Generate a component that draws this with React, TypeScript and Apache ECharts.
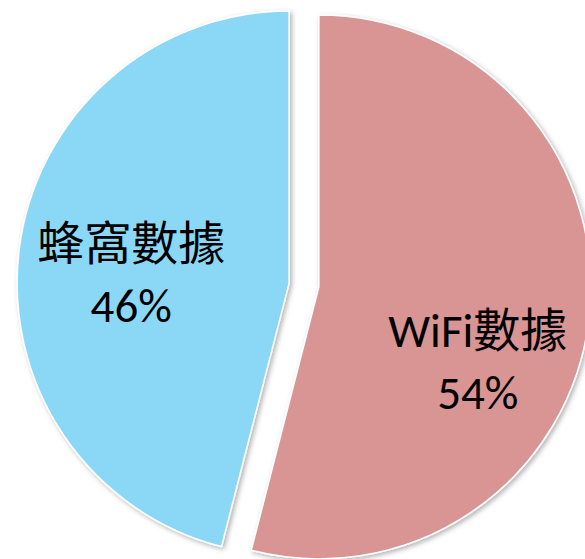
import React, { useEffect, useRef } from "react";
import * as echarts from "echarts";

const categories = ["WiFi數據", "蜂窩數據"];
const values = [54, 46];
const colors = ["#D99594", "#8AD8F6"];
// label nudges (layout only): horizontal padding [top, right, bottom, left], vertical spacer height
const labelPadding = [
  [0, 0, 0, 42],
  [0, 40, 0, 0],
];
const labelSpacer = [116, 18];

export default function App() {
  const ref = useRef<HTMLDivElement>(null);
  useEffect(() => {
    document.body.style.margin = "0";
    const chart = echarts.init(ref.current!, null, { renderer: "svg" });
    chart.setOption({
      animation: false,
      backgroundColor: "#ffffff",
      series: [
        {
          type: "pie",
          center: [304, 285],
          radius: 272,
          startAngle: 90,
          clockwise: true,
          selectedMode: "multiple",
          selectedOffset: 15,
          emphasis: { disabled: true },
          itemStyle: {
            borderColor: "#ffffff",
            borderWidth: 1.5,
            shadowBlur: 5,
            shadowColor: "rgba(0,0,0,0.3)",
            shadowOffsetX: 2,
            shadowOffsetY: 2,
          },
          label: {
            show: true,
            position: "inside",
            color: "#000000",
            fontSize: 47,
            lineHeight: 62,
            fontFamily: "Carlito, Lato, 'Noto Sans CJK TC', sans-serif",
            formatter: (p: any) =>
              `{g${p.dataIndex}| }\n${p.name}\n${Math.round(p.percent)}%`,
            rich: {
              g0: { fontSize: 1, lineHeight: labelSpacer[0] },
              g1: { fontSize: 1, lineHeight: labelSpacer[1] },
            },
          },
          labelLine: { show: false },
          data: categories.map((name, i) => ({
            name,
            value: values[i],
            selected: true,
            itemStyle: { color: colors[i] },
            label: { padding: labelPadding[i] },
          })),
        },
      ],
    });
    return () => chart.dispose();
  }, []);
  return (
    <div
      ref={ref}
      style={{ width: 585, height: 559, position: "absolute", left: 0, top: 0 }}
    />
  );
}
